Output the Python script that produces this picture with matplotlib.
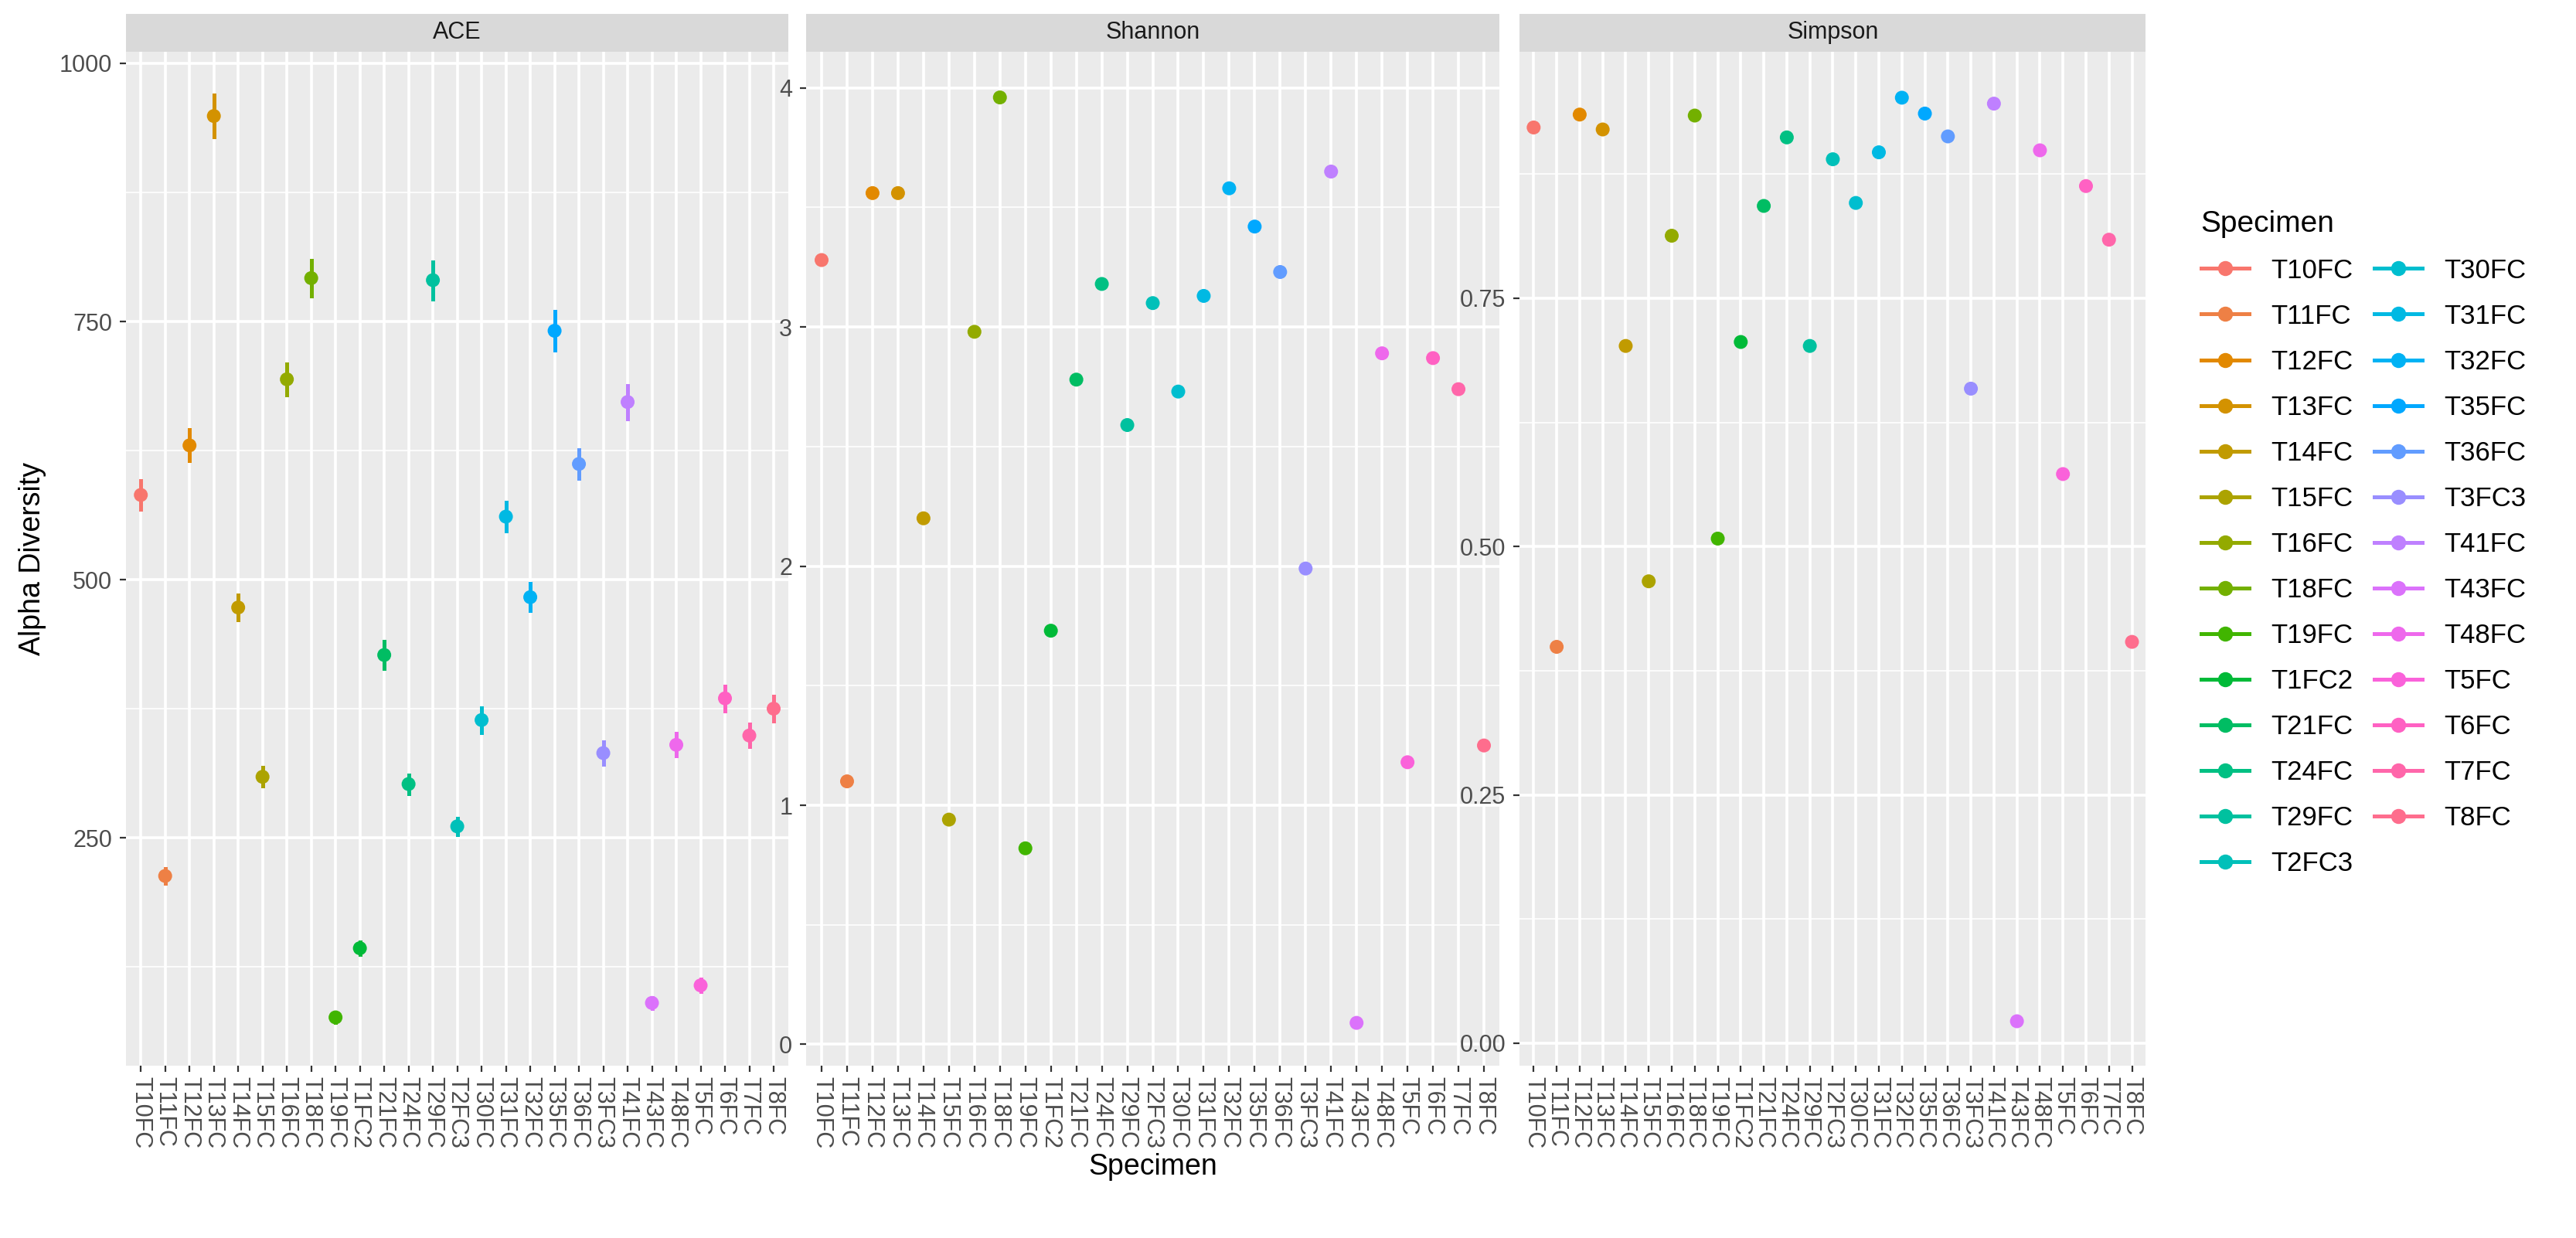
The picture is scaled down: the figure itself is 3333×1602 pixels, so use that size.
import numpy as np
import matplotlib
matplotlib.use("Agg")
import matplotlib.pyplot as plt
from matplotlib.lines import Line2D

plt.rcParams['font.family'] = ['Liberation Sans', 'DejaVu Sans']

specimens = ["T10FC", "T11FC", "T12FC", "T13FC", "T14FC", "T15FC", "T16FC", "T18FC",
             "T19FC", "T1FC2", "T21FC", "T24FC", "T29FC", "T2FC3", "T30FC", "T31FC",
             "T32FC", "T35FC", "T36FC", "T3FC3", "T41FC", "T43FC", "T48FC", "T5FC",
             "T6FC", "T7FC", "T8FC"]

ace = [582, 213, 630, 949, 473, 309, 694, 792, 76, 143, 427, 302, 790, 261, 364, 561,
       483, 741, 612, 332, 672, 90, 340, 107, 385, 349, 375]
ace_se = [14, 7, 15, 20, 12, 9, 15, 17, 5, 6, 13, 9, 18, 8, 12, 14,
          13, 19, 14, 11, 16, 5, 11, 6, 12, 11, 12]
shannon = [3.28, 1.10, 3.56, 3.56, 2.20, 0.94, 2.98, 3.96, 0.82, 1.73, 2.78, 3.18, 2.59, 3.10,
           2.73, 3.13, 3.58, 3.42, 3.23, 1.99, 3.65, 0.09, 2.89, 1.18, 2.87, 2.74, 1.25]
simpson = [0.922, 0.399, 0.935, 0.920, 0.702, 0.465, 0.813, 0.934, 0.508, 0.706, 0.843,
           0.912, 0.702, 0.890, 0.846, 0.897, 0.952, 0.936, 0.913, 0.659, 0.946, 0.022,
           0.899, 0.573, 0.863, 0.809, 0.404]


def hcl_to_rgb(h, c, l):
    # polar LUV -> sRGB, like R's hcl()
    hr = np.deg2rad(h)
    u, v = c * np.cos(hr), c * np.sin(hr)
    xn, yn, zn = 0.95047, 1.0, 1.08883
    un = 4 * xn / (xn + 15 * yn + 3 * zn)
    vn = 9 * yn / (xn + 15 * yn + 3 * zn)
    Y = yn * (((l + 16) / 116) ** 3 if l > 8 else l / 903.3)
    up = u / (13 * l) + un
    vp = v / (13 * l) + vn
    X = 9.0 * Y * up / (4 * vp)
    Z = -X / 3 - 5 * Y + 3 * Y / vp
    M = np.array([[3.2406, -1.5372, -0.4986], [-0.9689, 1.8758, 0.0415], [0.0557, -0.2040, 1.0570]])
    rgb = M @ np.array([X, Y, Z])
    rgb = np.where(rgb <= 0.0031308, 12.92 * rgb, 1.055 * np.clip(rgb, 0, None) ** (1 / 2.4) - 0.055)
    return tuple(np.clip(rgb, 0, 1))


n = len(specimens)
hues = np.linspace(15, 375, n + 1)[:n]
colors = [hcl_to_rgb(h, 100, 65) for h in hues]

fig = plt.figure(figsize=(16.665, 8.01), dpi=200)
bottom, top = 0.139, 0.958
panels = [
    ("ACE", ace, ace_se, [0.049, 0.306], (29, 1011), [250, 500, 750, 1000], [125, 375, 625, 875], ["250", "500", "750", "1000"]),
    ("Shannon", shannon, None, [0.313, 0.582], (-0.09, 4.15), [0, 1, 2, 3, 4], [0.5, 1.5, 2.5, 3.5], ["0", "1", "2", "3", "4"]),
    ("Simpson", simpson, None, [0.590, 0.833], (-0.023, 0.998), [0, 0.25, 0.5, 0.75], [0.125, 0.375, 0.625, 0.875], ["0.00", "0.25", "0.50", "0.75"]),
]
x = np.arange(n)
for i, (name, vals, se, (l, r), ylim, yt, ymin, ylab) in enumerate(panels):
    ax = fig.add_axes([l, bottom, r - l, top - bottom])
    ax.set_facecolor("#EBEBEB")
    for s in ax.spines.values():
        s.set_visible(False)
    for yy in ymin:
        ax.axhline(yy, color="white", lw=0.6, zorder=0)
    for yy in yt:
        ax.axhline(yy, color="white", lw=1.3, zorder=0)
    for xx in x:
        ax.axvline(xx, color="white", lw=1.3, zorder=0)
    if se is not None:
        for xi, v, e, c in zip(x, vals, se, colors):
            ax.plot([xi, xi], [v - e, v + e], color=c, lw=1.8, zorder=2)
    ax.scatter(x, vals, c=colors, s=42, zorder=3, linewidths=0)
    ax.set_xlim(-0.6, n - 0.4)
    ax.set_ylim(*ylim)
    ax.set_yticks(yt)
    ax.set_yticklabels(ylab)
    ax.set_xticks(x)
    ax.set_xticklabels(specimens, rotation=-90)
    ax.tick_params(colors="#333333", labelcolor="#4D4D4D", labelsize=11, length=3, width=0.8)
    ax.tick_params(axis="x", pad=2)
    # strip
    sax = fig.add_axes([l, top, r - l, 0.031])
    sax.set_facecolor("#D9D9D9")
    sax.set_xticks([])
    sax.set_yticks([])
    for s in sax.spines.values():
        s.set_visible(False)
    sax.text(0.5, 0.5, name, ha="center", va="center", fontsize=11, color="#1A1A1A", transform=sax.transAxes)
    if i == 0:
        ax.set_ylabel("Alpha Diversity", fontsize=13.5, labelpad=6)
    if i == 1:
        ax.set_xlabel("Specimen", fontsize=13.5, labelpad=2)

handles = [Line2D([0], [0], color=c, marker="o", markersize=6, lw=1.8) for c in colors]
leg = fig.legend(handles, specimens, loc="upper left", bbox_to_anchor=(0.845, 0.85), ncol=2,
                 frameon=False, title="Specimen", fontsize=12.5, title_fontsize=14,
                 handlelength=1.8, labelspacing=0.75, columnspacing=0.8, alignment="left")
fig.savefig("out.png", dpi=200, facecolor="white")
